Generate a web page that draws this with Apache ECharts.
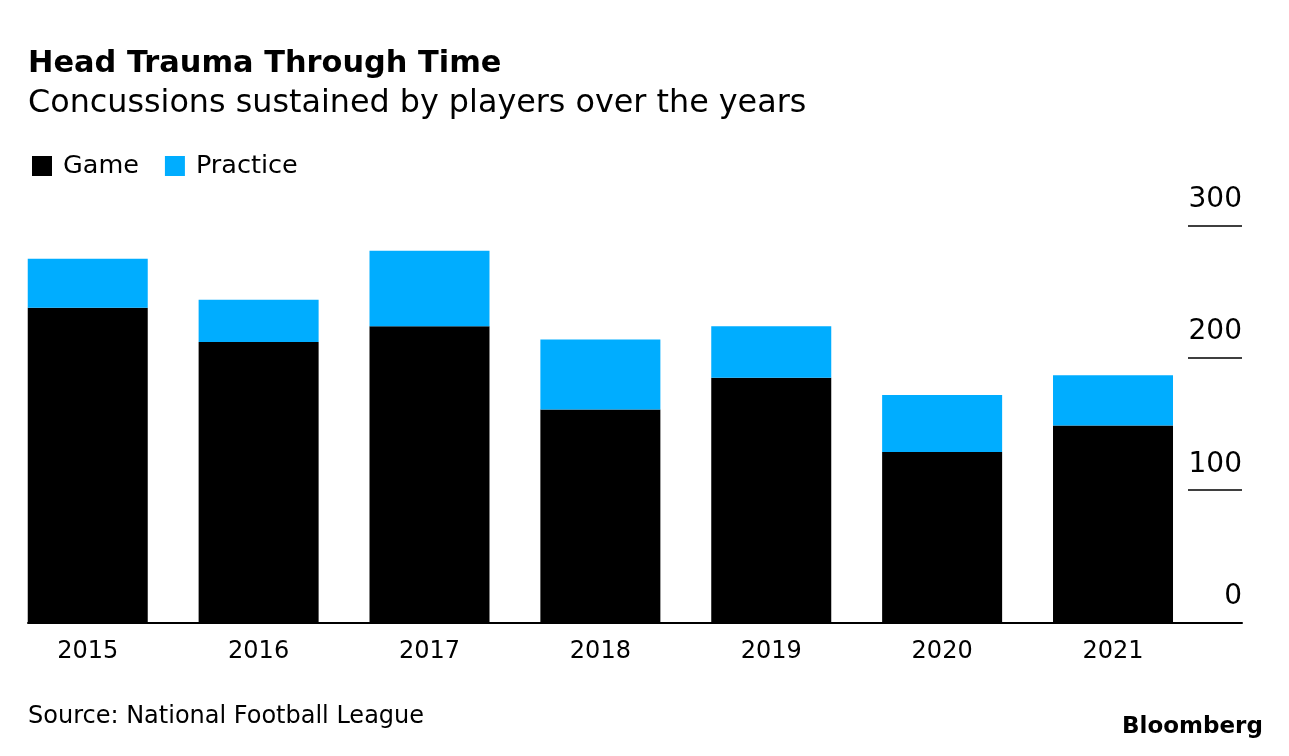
<!DOCTYPE html>
<html><head><meta charset="utf-8">
<script src="https://cdn.jsdelivr.net/npm/echarts@6/dist/echarts.min.js"></script>
<style>html,body{margin:0;padding:0;background:#fff}#main{width:1289px;height:756px}</style>
</head><body><div id="main"></div>
<script>
var years = ['2015', '2016', '2017', '2018', '2019', '2020', '2021'];
var game = [238, 212, 224, 161, 185, 129, 149];
var practice = [37, 32, 57, 53, 39, 43, 38];
var yTicks = [0, 100, 200, 300];

var FONT = 'DejaVu Sans';
var chart = echarts.init(document.getElementById('main'), null, {renderer: 'canvas'});
var option = {
  animation: false,
  backgroundColor: '#ffffff',
  title: [
    {text: 'Head Trauma Through Time', left: 28, top: 49, padding: 0,
     textStyle: {fontFamily: FONT, fontWeight: 'bold', fontSize: 30.4, lineHeight: 30.4, color: '#000'}},
    {text: 'Concussions sustained by players over the years', left: 28, top: 88, padding: 0,
     textStyle: {fontFamily: FONT, fontWeight: 'normal', fontSize: 31.8, lineHeight: 31.8, color: '#000'}},
    {text: 'Source: National Football League', left: 28, top: 705, padding: 0,
     textStyle: {fontFamily: FONT, fontWeight: 'normal', fontSize: 24, lineHeight: 24, color: '#000'}},
    {text: 'Bloomberg', left: 1122, top: 716, padding: 0,
     textStyle: {fontFamily: FONT, fontWeight: 'bold', fontSize: 23, lineHeight: 23, color: '#000'}}
  ],
  legend: {
    left: 32, top: 153, padding: 0, itemWidth: 20, itemHeight: 20, itemGap: 26,
    icon: 'rect', selectedMode: false,
    textStyle: {fontFamily: FONT, fontSize: 25.5, color: '#000', padding: [0, 0, 0, 6]},
    data: ['Game', 'Practice']
  },
  grid: [
    {left: 2.3, right: 90.55, top: 225.7, bottom: 133.5, containLabel: false},
    {left: 28, right: 47, top: 225.7, bottom: 133.5, containLabel: false}
  ],
  xAxis: [
    {type: 'category', gridIndex: 0, data: years,
     axisLine: {show: false}, axisTick: {show: false}, splitLine: {show: false},
     axisLabel: {fontFamily: FONT, fontSize: 24, color: '#000', margin: 17}},
    {type: 'category', gridIndex: 1, data: years,
     axisLine: {show: true, lineStyle: {color: '#000', width: 2}},
     axisTick: {show: false}, axisLabel: {show: false}, splitLine: {show: false}}
  ],
  yAxis: [
    {type: 'value', gridIndex: 0, min: 0, max: 300, interval: 100, show: false, splitLine: {show: false}},
    {type: 'value', gridIndex: 1, min: 0, max: 300, interval: 100, position: 'right',
     axisLine: {show: false}, splitLine: {show: false},
     axisTick: {show: true, inside: true, length: 54, lineStyle: {color: '#000', width: 1.5}},
     axisLabel: {inside: true, margin: 0, fontFamily: FONT, fontSize: 28, color: '#000',
                 verticalAlign: 'bottom', align: 'right', padding: [0, 0, 12, 0],
                 formatter: function (v) { return yTicks.indexOf(v) >= 0 ? String(v) : ''; }}}
  ],
  series: [
    {name: 'Game', type: 'bar', stack: 'total', xAxisIndex: 0, yAxisIndex: 0,
     barWidth: 120, data: game, itemStyle: {color: '#000000'}},
    {name: 'Practice', type: 'bar', stack: 'total', xAxisIndex: 0, yAxisIndex: 0,
     barWidth: 120, data: practice, itemStyle: {color: '#00adff'}}
  ]
};
chart.setOption(option);
</script></body></html>
